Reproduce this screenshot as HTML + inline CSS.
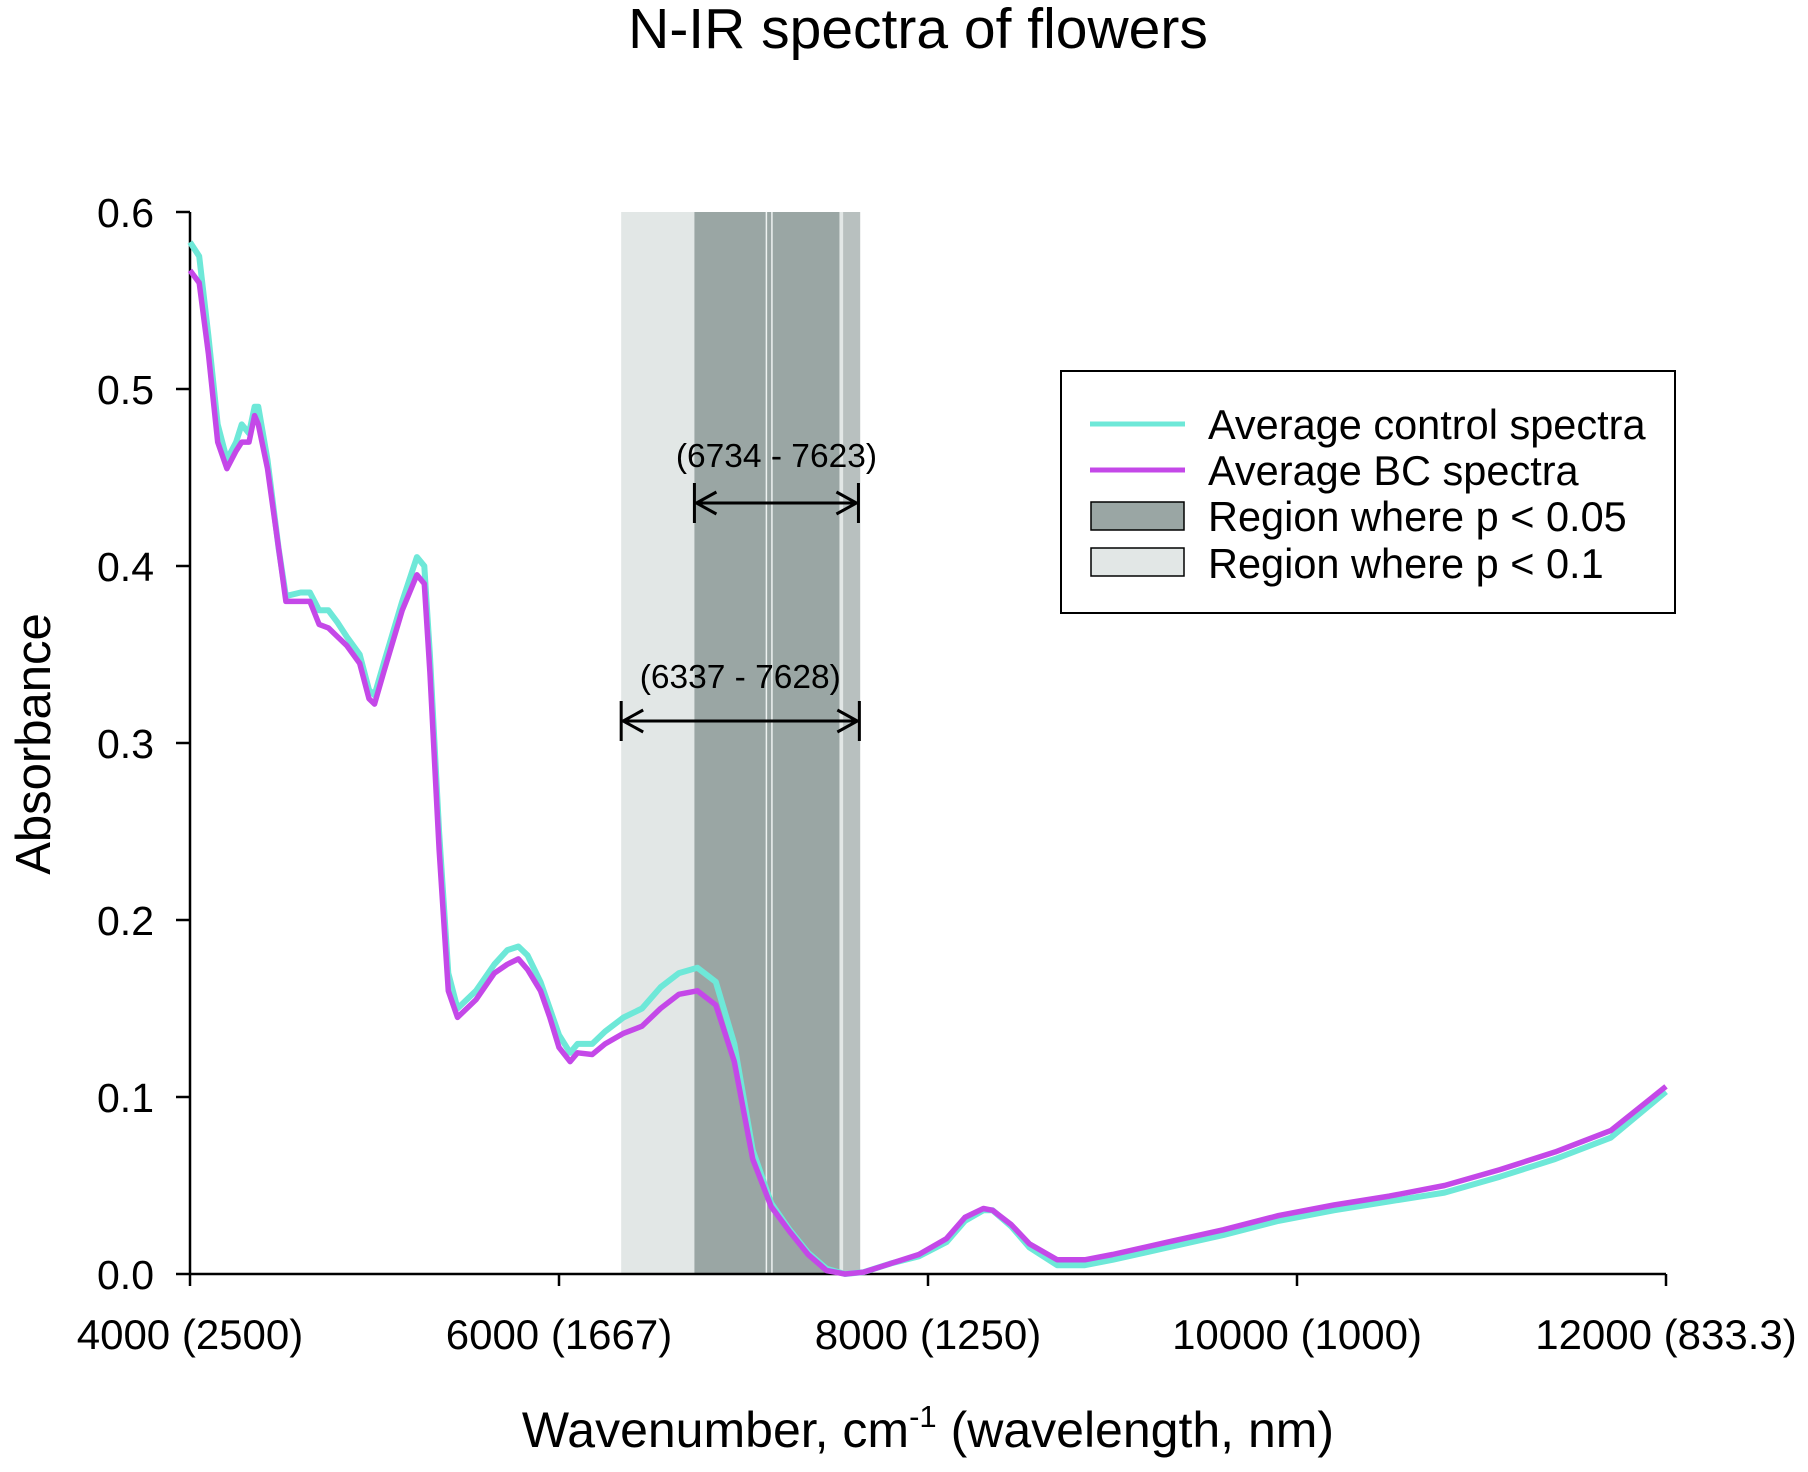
<!DOCTYPE html>
<html><head><meta charset="utf-8"><style>
body{margin:0;background:#fff}
svg{display:block;font-family:"Liberation Sans",Arial,sans-serif}
</style></head><body>
<svg id="chart" width="1808" height="1472">
<text x="918" y="48" font-size="57" text-anchor="middle">N-IR spectra of flowers</text>
<text transform="translate(50,744) rotate(-90)" font-size="49" text-anchor="middle">Absorbance</text>
<text x="928" y="1447" font-size="50" text-anchor="middle">Wavenumber, cm<tspan dy="-20" font-size="31">-1</tspan><tspan dy="20"> (wavelength, nm)</tspan></text>
<g id="regions"></g>
<g id="axes"></g>
<g id="series"></g>
<g id="annot"></g>
<g>
<rect x="1061" y="371" width="614" height="242" fill="#fff" stroke="#000" stroke-width="2"/>
<line x1="1090" y1="424" x2="1185" y2="424" stroke="#6ee8d8" stroke-width="5"/>
<text x="1208" y="439" font-size="41.5">Average control spectra</text>
<line x1="1090" y1="470" x2="1185" y2="470" stroke="#c448e8" stroke-width="5"/>
<text x="1208" y="485" font-size="41.5">Average BC spectra</text>
<rect x="1091" y="502" width="93" height="28" fill="#9aa6a4" stroke="#000" stroke-width="1.5"/>
<text x="1208" y="531" font-size="41.5">Region where p &lt; 0.05</text>
<rect x="1091" y="548" width="93" height="28" fill="#e2e7e6" stroke="#000" stroke-width="1.5"/>
<text x="1208" y="578" font-size="41.5">Region where p &lt; 0.1</text>
</g>
</svg>
<script>
const wn=[4000,4050,4100,4150,4200,4250,4280,4320,4350,4370,4420,4480,4520,4600,4650,4700,4750,4800,4850,4920,4970,5000,5050,5150,5230,5270,5300,5350,5400,5450,5550,5650,5720,5780,5830,5900,5950,6000,6060,6100,6180,6250,6350,6450,6550,6650,6750,6850,6950,7050,7150,7250,7350,7450,7550,7650,7800,7950,8100,8200,8300,8350,8450,8550,8700,8850,9000,9300,9600,9900,10200,10500,10800,11100,11400,11700,12000];
const control=[0.583,0.575,0.53,0.48,0.46,0.47,0.48,0.475,0.49,0.49,0.46,0.41,0.383,0.385,0.385,0.375,0.375,0.368,0.36,0.35,0.33,0.327,0.345,0.38,0.405,0.40,0.35,0.25,0.17,0.15,0.16,0.175,0.183,0.185,0.18,0.165,0.15,0.135,0.125,0.13,0.13,0.137,0.145,0.15,0.162,0.17,0.173,0.165,0.13,0.07,0.04,0.025,0.012,0.003,0.0,0.001,0.006,0.01,0.018,0.03,0.036,0.036,0.027,0.015,0.005,0.005,0.008,0.015,0.022,0.03,0.036,0.041,0.046,0.055,0.065,0.077,0.103];
const bc=[0.567,0.56,0.52,0.47,0.455,0.465,0.47,0.47,0.485,0.48,0.455,0.41,0.38,0.38,0.38,0.367,0.365,0.36,0.355,0.345,0.325,0.322,0.34,0.375,0.395,0.39,0.34,0.24,0.16,0.145,0.155,0.17,0.175,0.178,0.172,0.16,0.145,0.128,0.12,0.125,0.124,0.13,0.136,0.14,0.15,0.158,0.16,0.152,0.12,0.065,0.038,0.024,0.011,0.002,0.0,0.001,0.006,0.011,0.02,0.032,0.037,0.036,0.028,0.017,0.008,0.008,0.011,0.018,0.025,0.033,0.039,0.044,0.05,0.059,0.069,0.081,0.106];
const xTicks=[4000,6000,8000,10000,12000];
const xTickLabels=["4000 (2500)","6000 (1667)","8000 (1250)","10000 (1000)","12000 (833.3)"];
const yTicks=[0,0.1,0.2,0.3,0.4,0.5,0.6];
const yTickLabels=["0.0","0.1","0.2","0.3","0.4","0.5","0.6"];
const regionP01=[6337,7628];
const regionP005=[6734,7520];
const stripes=[7120,7150,7540,7570,7600];
const X=w=>190+(w-4000)*(1666-190)/8000;
const Y=v=>1274-v*(1274-212)/0.6;
const NS="http://www.w3.org/2000/svg";
function mk(p,t,a){const e=document.createElementNS(NS,t);for(const k in a)e.setAttribute(k,a[k]);document.getElementById(p).appendChild(e);return e;}
let r=mk('regions','rect',{x:X(regionP01[0]),y:Y(0.6),width:X(regionP01[1])-X(regionP01[0]),height:Y(0)-Y(0.6),fill:'#e2e7e6'});


r=mk('regions','rect',{x:X(regionP005[0]),y:Y(0.6),width:X(regionP005[1])-X(regionP005[0]),height:Y(0)-Y(0.6),fill:'#9aa6a4'});


stripes.forEach((s,i)=>{const e=mk('regions','rect',{x:X(s),y:Y(0.6),width:i<2?1.5:6,height:Y(0)-Y(0.6),fill:i<2?'#eef2f1':'#b8c0bf'});

});
let ax=mk('axes','line',{x1:X(4000),y1:Y(0),x2:X(12000),y2:Y(0),stroke:'#000','stroke-width':2.5});


ax=mk('axes','line',{x1:X(4000),y1:Y(0),x2:X(4000),y2:Y(0.6),stroke:'#000','stroke-width':2.5});


xTicks.forEach((t,i)=>{mk('axes','line',{x1:X(t),y1:Y(0),x2:X(t),y2:Y(0)+12,stroke:'#000','stroke-width':2.5});
const e=mk('axes','text',{x:X(t),y:1349,'font-size':42,'text-anchor':'middle'});e.textContent=xTickLabels[i];

});
yTicks.forEach((t,i)=>{mk('axes','line',{x1:X(4000)-14,y1:Y(t),x2:X(4000),y2:Y(t),stroke:'#000','stroke-width':2.5});
const e=mk('axes','text',{x:154,y:Y(t)+15,'font-size':41,'text-anchor':'end'});e.textContent=yTickLabels[i];

});
function path(vals){return wn.map((w,i)=>(i?'L':'M')+X(w).toFixed(1)+','+Y(vals[i]).toFixed(1)).join('');}
let p=mk('series','path',{d:path(control),fill:'none',stroke:'#6ee8d8','stroke-width':6,'stroke-linejoin':'round'});


p=mk('series','path',{d:path(bc),fill:'none',stroke:'#c448e8','stroke-width':5.5,'stroke-linejoin':'round'});


function arrow(a,b,y,label,ly,name){const x1=X(a),x2=X(b);
const g=mk('annot','g',{stroke:'#000','stroke-width':3,fill:'none'});


[['line',{x1:x1,y1:y,x2:x2,y2:y}],['line',{x1:x1,y1:y-20,x2:x1,y2:y+20}],['line',{x1:x2,y1:y-20,x2:x2,y2:y+20}],
['polyline',{points:`${x1+22},${y-11} ${x1+2},${y} ${x1+22},${y+11}`}],['polyline',{points:`${x2-22},${y-11} ${x2-2},${y} ${x2-22},${y+11}`}]].forEach(([t,at])=>{const e=document.createElementNS(NS,t);for(const k in at)e.setAttribute(k,at[k]);g.appendChild(e);});
const t=mk('annot','text',{x:(x1+x2)/2,y:ly,'font-size':33.5,'text-anchor':'middle'});t.textContent=label;

}
arrow(6734,7623,503,'(6734 - 7623)',467,'p005-range-arrow');
arrow(6337,7628,721,'(6337 - 7628)',688,'p01-range-arrow');
</script>
</body></html>
